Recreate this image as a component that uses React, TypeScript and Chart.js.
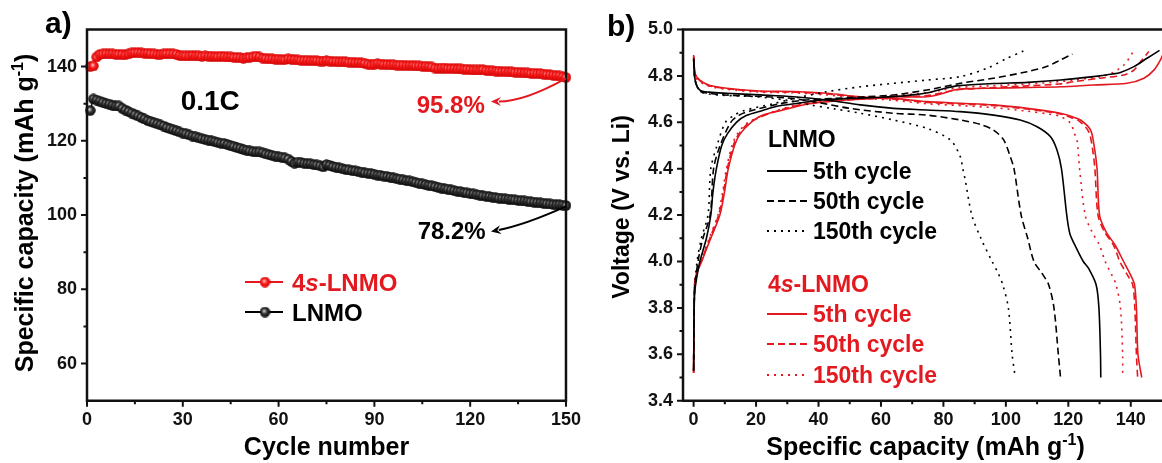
import React, { useEffect, useRef } from "react";
import { Chart, registerables } from "chart.js";

Chart.register(...registerables);

const FONT = "'Liberation Sans', Arial, Helvetica, sans-serif";
const RED = "#e3191f";
const BLACK = "#111111";

// ---------------- Panel a: cycling ----------------
const cycleNumbers = Array.from({ length: 150 }, (_, i) => i + 1);
const capacity4sLNMO = [
  140.0, 140.2, 142.6, 143.3, 143.4, 143.5, 143.4, 143.4, 143.3, 143.3,
  143.3, 143.2, 143.4, 143.7, 143.8, 143.8, 143.7, 143.6, 143.6, 143.5,
  143.4, 143.3, 143.3, 143.4, 143.5, 143.5, 143.4, 143.3, 143.0, 142.9,
  142.9, 142.9, 143.0, 142.9, 142.9, 142.8, 142.9, 142.8, 142.8, 142.7,
  142.7, 142.8, 142.7, 142.6, 142.6, 142.5, 142.5, 142.4, 142.3, 142.4,
  142.5, 142.6, 142.8, 142.6, 142.3, 142.2, 142.1, 142.1, 142.0, 142.0,
  141.9, 141.9, 142.1, 142.0, 141.9, 141.8, 141.7, 141.7, 141.7, 141.6,
  141.6, 141.6, 141.5, 141.5, 141.6, 141.5, 141.4, 141.4, 141.3, 141.3,
  141.3, 141.2, 141.2, 141.1, 141.1, 141.0, 140.9, 140.7, 140.5, 140.7,
  140.8, 140.7, 140.6, 140.6, 140.5, 140.5, 140.4, 140.4, 140.4, 140.3,
  140.3, 140.3, 140.2, 140.2, 140.1, 140.1, 140.0, 139.9, 139.6, 139.5,
  139.6, 139.6, 139.5, 139.5, 139.5, 139.4, 139.4, 139.3, 139.3, 139.2,
  139.1, 139.1, 139.1, 139.2, 139.0, 138.9, 138.9, 138.8, 138.8, 138.7,
  138.7, 138.6, 138.6, 138.5, 138.5, 138.4, 138.3, 138.3, 138.2, 138.2,
  138.1, 138.1, 138.0, 137.9, 137.8, 137.7, 137.6, 137.5, 137.3, 137.1,
];
const capacityLNMO = [
  128.2, 131.3, 131.0, 130.7, 130.4, 130.1, 129.9, 129.6, 129.4, 129.4,
  128.8, 128.3, 127.9, 127.5, 127.1, 126.7, 126.3, 125.9, 125.5, 125.2,
  124.9, 124.6, 124.3, 124.0, 123.6, 123.3, 123.0, 122.7, 122.4, 122.1,
  121.9, 121.6, 121.3, 121.1, 120.8, 120.6, 120.4, 120.2, 120.0, 119.8,
  119.6, 119.4, 119.3, 119.0, 118.7, 118.5, 118.2, 118.0, 117.7, 117.5,
  117.3, 117.1, 117.0, 117.0, 116.8, 116.5, 116.3, 116.1, 115.9, 115.7,
  115.6, 115.4, 115.1, 114.5, 114.0, 114.3, 114.2, 114.0, 113.9, 113.8,
  113.6, 113.5, 113.3, 113.0, 113.6, 113.4, 113.1, 112.9, 112.7, 112.5,
  112.3, 112.2, 112.0, 111.9, 111.7, 111.6, 111.4, 111.3, 111.2, 111.0,
  110.8, 110.7, 110.5, 110.4, 110.2, 110.0, 109.8, 109.7, 109.5, 109.3,
  109.2, 109.0, 108.8, 108.6, 108.4, 108.2, 108.0, 107.9, 107.7, 107.5,
  107.3, 107.1, 107.0, 106.8, 106.6, 106.4, 106.3, 106.1, 106.0, 105.8,
  105.7, 105.5, 105.4, 105.2, 105.1, 105.0, 104.8, 104.7, 104.6, 104.5,
  104.4, 104.3, 104.2, 104.1, 104.0, 103.9, 103.8, 103.7, 103.6, 103.5,
  103.4, 103.3, 103.2, 103.1, 103.0, 102.9, 102.8, 102.8, 102.7, 102.6,
];
const cycleTicks = [0, 30, 60, 90, 120, 150];
const cycleMinorTicks = [15, 45, 75, 105, 135];
const capacityTicks = [60, 80, 100, 120, 140];
const capacityMinorTicks = [70, 90, 110, 130];

// ---------------- Panel b: charge / discharge ----------------
const lnmo5ChargeCap = [0, 0.3, 1, 2, 4.1, 5.5, 6.2, 7.3, 9, 10.8, 13.7, 17, 21.9, 27, 32.4, 40, 50, 60, 68, 75, 80, 85, 96, 107, 117.5, 128, 134, 136.7, 141, 145.2, 149.2];
const lnmo5ChargeV = [3.53, 3.86, 3.93, 4.0, 4.1, 4.2, 4.3, 4.4, 4.5, 4.55, 4.6, 4.63, 4.65, 4.67, 4.68, 4.695, 4.703, 4.708, 4.715, 4.727, 4.745, 4.758, 4.767, 4.772, 4.782, 4.797, 4.808, 4.815, 4.84, 4.876, 4.91];
const lnmo50ChargeCap = [0, 0.3, 1.4, 3, 5.3, 6.4, 8.5, 11.9, 14.5, 18.4, 27.7, 35, 45, 55, 64, 74.7, 85.4, 96, 106.8, 113, 117.5, 121.3];
const lnmo50ChargeV = [3.53, 3.87, 4.0, 4.1, 4.2, 4.4, 4.5, 4.6, 4.63, 4.65, 4.68, 4.695, 4.703, 4.71, 4.718, 4.739, 4.768, 4.79, 4.818, 4.84, 4.869, 4.894];
const lnmo150ChargeCap = [0, 0.3, 1.1, 2.5, 4.6, 5.5, 7.5, 10.2, 13, 16, 25.4, 33, 42.7, 53.4, 64, 74.7, 85.4, 94, 100.4, 105.6];
const lnmo150ChargeV = [3.53, 3.87, 4.0, 4.1, 4.2, 4.4, 4.5, 4.6, 4.63, 4.65, 4.68, 4.705, 4.732, 4.753, 4.768, 4.782, 4.797, 4.833, 4.876, 4.907];

const lnmo5DischargeCap = [0, 0.5, 2, 5, 10.6, 21.3, 32, 42.7, 53.4, 64, 74.7, 85.4, 96.1, 104.6, 110, 114.3, 116.4, 117.8, 119.5, 120.5, 122.5, 124.8, 126.5, 128.9, 129.8, 130.3, 130.4];
const lnmo5DischargeV = [4.876, 4.782, 4.739, 4.73, 4.725, 4.718, 4.71, 4.696, 4.675, 4.66, 4.653, 4.646, 4.631, 4.61, 4.581, 4.538, 4.48, 4.4, 4.2, 4.12, 4.06, 4.0, 3.97, 3.9, 3.8, 3.6, 3.5];
const lnmo50DischargeCap = [0, 0.5, 2, 5, 10, 20, 30, 40, 50, 64, 74.7, 85.4, 92, 96, 99.3, 101.4, 102.6, 104.9, 107, 109, 111.5, 113.7, 115.4, 116.8, 117.5];
const lnmo50DischargeV = [4.87, 4.78, 4.735, 4.725, 4.718, 4.712, 4.705, 4.685, 4.66, 4.639, 4.631, 4.61, 4.59, 4.567, 4.524, 4.452, 4.4, 4.2, 4.1, 4.0, 3.95, 3.9, 3.8, 3.6, 3.5];
const lnmo150DischargeCap = [0, 0.5, 2, 5, 10, 20, 30, 37.3, 45, 53.4, 64, 74.7, 82.2, 85.4, 86.2, 87, 89.1, 92, 95.6, 97.5, 99, 100.8, 102, 102.8];
const lnmo150DischargeV = [4.87, 4.78, 4.735, 4.722, 4.716, 4.71, 4.695, 4.675, 4.658, 4.639, 4.61, 4.574, 4.524, 4.452, 4.4, 4.35, 4.2, 4.1, 4.0, 3.95, 3.9, 3.8, 3.6, 3.52];

const s4_5ChargeCap = [0, 0.3, 1, 2.6, 4, 5.5, 8.4, 9.9, 11.1, 13.1, 14.9, 18.4, 22, 27.7, 37, 48, 58, 64, 74.7, 80, 83.3, 88, 96.1, 107, 117.5, 128, 138.8, 144.2, 147.4, 149.5, 150.5];
const s4_5ChargeV = [3.52, 3.9, 3.95, 4.0, 4.05, 4.1, 4.2, 4.3, 4.4, 4.5, 4.55, 4.6, 4.63, 4.65, 4.68, 4.695, 4.703, 4.71, 4.71, 4.725, 4.739, 4.745, 4.747, 4.75, 4.753, 4.761, 4.768, 4.79, 4.825, 4.869, 4.9];
const s4_50ChargeCap = [0, 0.3, 1, 2.4, 5.2, 8, 9.6, 10.8, 12.7, 14.5, 18, 27, 36, 48, 58, 64, 74.7, 80, 84, 90, 96, 107, 117, 121.7, 130, 137.8, 141, 143.1, 145.8];
const s4_50ChargeV = [3.52, 3.9, 3.95, 4.0, 4.1, 4.2, 4.3, 4.4, 4.5, 4.55, 4.6, 4.65, 4.68, 4.695, 4.703, 4.71, 4.715, 4.728, 4.74, 4.745, 4.75, 4.757, 4.765, 4.775, 4.79, 4.804, 4.825, 4.861, 4.905];
const s4_150ChargeCap = [0, 0.3, 1, 2.3, 5, 7.8, 9.3, 10.5, 12.3, 14, 17.5, 26.5, 35, 47, 57, 64, 74.7, 80, 85, 96, 107, 117, 121.7, 132.4, 137.8, 141];
const s4_150ChargeV = [3.52, 3.9, 3.95, 4.0, 4.1, 4.2, 4.3, 4.4, 4.5, 4.55, 4.6, 4.65, 4.68, 4.695, 4.705, 4.715, 4.728, 4.74, 4.75, 4.758, 4.765, 4.775, 4.782, 4.804, 4.847, 4.909];

const s4_5DischargeCap = [0, 0.5, 2, 5, 10.6, 21.3, 32, 42.7, 53.4, 64, 74.7, 85.4, 96.1, 106.8, 117.5, 121, 123.9, 127.1, 128.3, 129.2, 130, 132, 135, 137.7, 140, 141.2, 141.8, 142.3, 143.5];
const s4_5DischargeV = [4.89, 4.81, 4.782, 4.76, 4.747, 4.735, 4.733, 4.725, 4.71, 4.703, 4.689, 4.682, 4.675, 4.66, 4.639, 4.625, 4.61, 4.567, 4.495, 4.4, 4.2, 4.13, 4.07, 4.0, 3.94, 3.9, 3.8, 3.6, 3.5];
const s4_50DischargeCap = [0, 0.5, 2, 5, 10.6, 21.3, 32, 42.7, 53.4, 64, 74.7, 85.4, 96.1, 106.8, 117.5, 121, 123.5, 126.5, 127.7, 128.5, 129.5, 131.5, 134.5, 136.5, 139, 140.6, 141.3, 141.8, 142.2];
const s4_50DischargeV = [4.885, 4.81, 4.78, 4.758, 4.745, 4.733, 4.73, 4.722, 4.708, 4.7, 4.686, 4.679, 4.672, 4.657, 4.636, 4.62, 4.605, 4.56, 4.49, 4.4, 4.2, 4.13, 4.07, 4.0, 3.94, 3.9, 3.8, 3.6, 3.5];
const s4_150DischargeCap = [0, 0.5, 2, 5, 10.6, 21.3, 32, 42.7, 53.4, 64, 74.7, 85.4, 96.1, 106.8, 114, 117.5, 120.7, 122, 122.8, 123.6, 125.4, 127.5, 130, 131.8, 134, 135.3, 136.7, 137.4, 137.4];
const s4_150DischargeV = [4.88, 4.8, 4.775, 4.755, 4.742, 4.73, 4.727, 4.718, 4.705, 4.695, 4.68, 4.672, 4.663, 4.648, 4.635, 4.625, 4.596, 4.55, 4.524, 4.4, 4.2, 4.13, 4.07, 4.0, 3.94, 3.9, 3.8, 3.6, 3.5];

const voltageTicks = [3.4, 3.6, 3.8, 4.0, 4.2, 4.4, 4.6, 4.8, 5.0];
const voltageMinorTicks = [3.5, 3.7, 3.9, 4.1, 4.3, 4.5, 4.7, 4.9];
const specCapTicks = [0, 20, 40, 60, 80, 100, 120, 140];
const specCapMinorTicks = [10, 30, 50, 70, 90, 110, 130];

const SOLID: number[] = [];
const DASHED = [7, 4];
const DOTTED = [2, 5];

// ---------------- helpers ----------------
type Seg = { t: string; italic?: boolean; sup?: boolean };

function drawRich(ctx: CanvasRenderingContext2D, segs: Seg[], x: number, y: number, size: number, color: string, align: "left" | "center") {
  const fontFor = (s: Seg) => `${s.italic ? "italic " : ""}bold ${s.sup ? Math.round(size * 0.62) : size}px ${FONT}`;
  const widths = segs.map((s) => {
    ctx.font = fontFor(s);
    return ctx.measureText(s.t).width;
  });
  const total = widths.reduce((a, b) => a + b, 0);
  let cx = align === "center" ? x - total / 2 : x;
  ctx.fillStyle = color;
  ctx.textAlign = "left";
  ctx.textBaseline = "alphabetic";
  segs.forEach((s, i) => {
    ctx.font = fontFor(s);
    ctx.fillText(s.t, cx, s.sup ? y - size * 0.4 : y);
    cx += widths[i];
  });
}

function makeBall(size: number, inner: string, mid: string, edge: string) {
  const c = document.createElement("canvas");
  c.width = size;
  c.height = size;
  const g = c.getContext("2d")!;
  const r = size / 2;
  const grad = g.createRadialGradient(r - 1, r - 1.2, 0.2, r, r, r);
  grad.addColorStop(0, inner);
  grad.addColorStop(0.45, mid);
  grad.addColorStop(1, edge);
  g.fillStyle = grad;
  g.beginPath();
  g.arc(r, r, r - 0.3, 0, Math.PI * 2);
  g.fill();
  return c;
}

function drawAxesFrame(chart: any, o: { xMajor: number[]; xMinor: number[]; yMajor: number[]; yMinor: number[]; right: boolean }) {
  const ctx: CanvasRenderingContext2D = chart.ctx;
  const { left, right, top, bottom } = chart.chartArea;
  const xs = chart.scales.x;
  const ys = chart.scales.y;
  ctx.save();
  ctx.strokeStyle = BLACK;
  ctx.lineWidth = 2;
  ctx.setLineDash([]);
  ctx.beginPath();
  o.xMajor.forEach((v) => { const p = xs.getPixelForValue(v); ctx.moveTo(p, bottom); ctx.lineTo(p, bottom + 6); });
  o.xMinor.forEach((v) => { const p = xs.getPixelForValue(v); ctx.moveTo(p, bottom); ctx.lineTo(p, bottom + 3.5); });
  o.yMajor.forEach((v) => { const p = ys.getPixelForValue(v); ctx.moveTo(left, p); ctx.lineTo(left - 6, p); });
  o.yMinor.forEach((v) => { const p = ys.getPixelForValue(v); ctx.moveTo(left, p); ctx.lineTo(left - 3.5, p); });
  ctx.stroke();
  ctx.lineWidth = 2.5;
  ctx.beginPath();
  if (o.right) {
    ctx.rect(left, top, right - left, bottom - top);
  } else {
    ctx.moveTo(right + 2, top);
    ctx.lineTo(left, top);
    ctx.lineTo(left, bottom);
    ctx.lineTo(right + 2, bottom);
  }
  ctx.stroke();
  ctx.restore();
}

function drawArrow(ctx: CanvasRenderingContext2D, sx: number, sy: number, cx: number, cy: number, ex: number, ey: number, color: string) {
  ctx.save();
  ctx.strokeStyle = color;
  ctx.fillStyle = color;
  ctx.lineWidth = 2;
  ctx.setLineDash([]);
  const ang = Math.atan2(ey - cy, ex - cx);
  const L = 10;
  const W = 4.5;
  const bx = ex - L * 0.8 * Math.cos(ang);
  const by = ey - L * 0.8 * Math.sin(ang);
  ctx.beginPath();
  ctx.moveTo(sx, sy);
  ctx.quadraticCurveTo(cx, cy, bx, by);
  ctx.stroke();
  ctx.beginPath();
  ctx.moveTo(ex, ey);
  ctx.lineTo(ex - L * Math.cos(ang) + W * Math.sin(ang), ey - L * Math.sin(ang) - W * Math.cos(ang));
  ctx.lineTo(ex - L * 0.65 * Math.cos(ang), ey - L * 0.65 * Math.sin(ang));
  ctx.lineTo(ex - L * Math.cos(ang) - W * Math.sin(ang), ey - L * Math.sin(ang) + W * Math.cos(ang));
  ctx.closePath();
  ctx.fill();
  ctx.restore();
}

const tickFont = { family: FONT, size: 18, weight: "bold" as const };

export default function App() {
  const refA = useRef<HTMLCanvasElement>(null);
  const refB = useRef<HTMLCanvasElement>(null);

  useEffect(() => {
    const redBall = makeBall(11, "#ffd0d0", "#ff2020", "#cc0000");
    const blackBall = makeBall(11, "#d8d8d8", "#3a3a3a", "#000000");

    const panelAPlugin = {
      id: "panelA",
      afterDatasetsDraw(chart: any) {
        const ctx: CanvasRenderingContext2D = chart.ctx;
        const xs = chart.scales.x;
        const ys = chart.scales.y;
        const { left, right } = chart.chartArea;
        drawAxesFrame(chart, { xMajor: cycleTicks, xMinor: cycleMinorTicks, yMajor: capacityTicks, yMinor: capacityMinorTicks, right: true });
        ctx.save();
        drawRich(ctx, [{ t: "a)" }], 45, 33, 30, "#000", "left");
        drawRich(ctx, [{ t: "Cycle number" }], (left + right) / 2, 455, 25, "#000", "center");
        ctx.save();
        ctx.translate(33, 213);
        ctx.rotate(-Math.PI / 2);
        drawRich(ctx, [{ t: "Specific capacity (mAh g" }, { t: "-1", sup: true }, { t: ")" }], 0, 0, 25, "#000", "center");
        ctx.restore();
        const px = (v: number) => xs.getPixelForValue(v);
        const py = (v: number) => ys.getPixelForValue(v);
        drawRich(ctx, [{ t: "0.1C" }], px(38.6), py(131.1) + 10, 28, "#000", "center");
        drawRich(ctx, [{ t: "95.8%" }], px(113.9), py(129.8) + 9, 24, RED, "center");
        drawRich(ctx, [{ t: "78.2%" }], px(114.2), py(96.1) + 9, 24, "#000", "center");
        const lastRed = capacity4sLNMO[capacity4sLNMO.length - 1];
        const lastBlack = capacityLNMO[capacityLNMO.length - 1];
        drawArrow(ctx, px(150), py(lastRed) + 1, px(137), py(130.6), px(126.5), py(130.6), RED);
        drawArrow(ctx, px(150), py(lastBlack) + 1, px(137), py(97.3), px(126.5), py(95.6), "#000");
        const rows = [
          { y: 282, color: RED, ball: redBall, segs: [{ t: "4" }, { t: "s", italic: true }, { t: "-LNMO" }] as Seg[] },
          { y: 312, color: "#000", ball: blackBall, segs: [{ t: "LNMO" }] as Seg[] },
        ];
        rows.forEach((r) => {
          ctx.strokeStyle = r.color;
          ctx.lineWidth = 2;
          ctx.beginPath();
          ctx.moveTo(245, r.y);
          ctx.lineTo(283, r.y);
          ctx.stroke();
          ctx.drawImage(r.ball, 265 - 5.5, r.y - 5.5);
          drawRich(ctx, r.segs, 292, r.y + 8.6, 24, r.color, "left");
        });
        ctx.restore();
      },
    };

    const chartA = new Chart(refA.current!, {
      type: "line",
      data: {
        datasets: [
          {
            label: "LNMO",
            data: cycleNumbers.map((c, i) => ({ x: c, y: capacityLNMO[i] })),
            borderColor: "#000",
            borderWidth: 1.5,
            pointStyle: blackBall as any,
            pointRadius: 5.5,
            clip: false as any,
          },
          {
            label: "4s-LNMO",
            data: cycleNumbers.map((c, i) => ({ x: c, y: capacity4sLNMO[i] })),
            borderColor: RED,
            borderWidth: 1.5,
            pointStyle: redBall as any,
            pointRadius: 5.5,
            clip: false as any,
          },
        ],
      },
      options: {
        responsive: false,
        animation: false,
        devicePixelRatio: 1,
        layout: { padding: { left: 0, right: 17, top: 29.5, bottom: 0 } },
        plugins: { legend: { display: false }, tooltip: { enabled: false } },
        scales: {
          x: {
            type: "linear",
            min: 0,
            max: 150,
            grid: { display: false, drawTicks: false },
            border: { display: false },
            afterBuildTicks: (s: any) => { s.ticks = cycleTicks.map((v) => ({ value: v })); },
            afterFit: (s: any) => { s.height = 62.3; },
            ticks: { font: tickFont, color: "#111", padding: 9, maxRotation: 0, autoSkip: false },
          },
          y: {
            type: "linear",
            min: 50,
            max: 150,
            grid: { display: false, drawTicks: false },
            border: { display: false },
            afterBuildTicks: (s: any) => { s.ticks = capacityTicks.map((v) => ({ value: v })); },
            afterFit: (s: any) => { s.width = 87; },
            ticks: { font: tickFont, color: "#111", padding: 10, autoSkip: false },
          },
        },
      },
      plugins: [panelAPlugin],
    });

    const curves = [
      { cap: lnmo5ChargeCap, v: lnmo5ChargeV, color: "#000", dash: SOLID },
      { cap: lnmo5DischargeCap, v: lnmo5DischargeV, color: "#000", dash: SOLID },
      { cap: lnmo50ChargeCap, v: lnmo50ChargeV, color: "#000", dash: DASHED },
      { cap: lnmo50DischargeCap, v: lnmo50DischargeV, color: "#000", dash: DASHED },
      { cap: lnmo150ChargeCap, v: lnmo150ChargeV, color: "#000", dash: DOTTED },
      { cap: lnmo150DischargeCap, v: lnmo150DischargeV, color: "#000", dash: DOTTED },
      { cap: s4_150ChargeCap, v: s4_150ChargeV, color: RED, dash: DOTTED },
      { cap: s4_150DischargeCap, v: s4_150DischargeV, color: RED, dash: DOTTED },
      { cap: s4_50ChargeCap, v: s4_50ChargeV, color: RED, dash: DASHED },
      { cap: s4_50DischargeCap, v: s4_50DischargeV, color: RED, dash: DASHED },
      { cap: s4_5ChargeCap, v: s4_5ChargeV, color: RED, dash: SOLID },
      { cap: s4_5DischargeCap, v: s4_5DischargeV, color: RED, dash: SOLID },
    ];

    const panelBPlugin = {
      id: "panelB",
      afterDatasetsDraw(chart: any) {
        const ctx: CanvasRenderingContext2D = chart.ctx;
        const { left, right } = chart.chartArea;
        drawAxesFrame(chart, { xMajor: specCapTicks, xMinor: specCapMinorTicks, yMajor: voltageTicks, yMinor: voltageMinorTicks, right: false });
        ctx.save();
        drawRich(ctx, [{ t: "b)" }], 17, 36, 30, "#000", "left");
        drawRich(ctx, [{ t: "Specific capacity (mAh g" }, { t: "-1", sup: true }, { t: ")" }], (left + right) / 2 + 3, 455, 25, "#000", "center");
        ctx.save();
        ctx.translate(39, 207);
        ctx.rotate(-Math.PI / 2);
        drawRich(ctx, [{ t: "Voltage (V vs. Li)" }], 0, 0, 23, "#000", "center");
        ctx.restore();
        const lx0 = 177;
        const lx1 = 217;
        const tx = 223;
        drawRich(ctx, [{ t: "LNMO" }], 178, 139 + 8.3, 23, "#000", "left");
        drawRich(ctx, [{ t: "4" }, { t: "s", italic: true }, { t: "-LNMO" }], 178, 284 + 8.3, 23, RED, "left");
        const rows = [
          { y: 171, c: "#000", d: SOLID, t: "5th cycle" },
          { y: 201, c: "#000", d: DASHED, t: "50th cycle" },
          { y: 231, c: "#000", d: DOTTED, t: "150th cycle" },
          { y: 314, c: RED, d: SOLID, t: "5th cycle" },
          { y: 344, c: RED, d: DASHED, t: "50th cycle" },
          { y: 375, c: RED, d: DOTTED, t: "150th cycle" },
        ];
        rows.forEach((r) => {
          ctx.strokeStyle = r.c;
          ctx.lineWidth = 1.8;
          ctx.setLineDash(r.d);
          ctx.beginPath();
          ctx.moveTo(lx0, r.y);
          ctx.lineTo(lx1, r.y);
          ctx.stroke();
          ctx.setLineDash([]);
          drawRich(ctx, [{ t: r.t }], tx, r.y + 8.3, 23, r.c, "left");
        });
        ctx.restore();
      },
    };

    const chartB = new Chart(refB.current!, {
      type: "scatter",
      data: {
        datasets: curves.map((c) => ({
          data: c.cap.map((x, i) => ({ x, y: c.v[i] })),
          showLine: true,
          borderColor: c.color,
          borderWidth: 1.6,
          borderDash: c.dash,
          pointRadius: 0,
          tension: 0.3,
        })),
      },
      options: {
        responsive: false,
        animation: false,
        devicePixelRatio: 1,
        layout: { padding: { left: 0, right: 0, top: 29.5, bottom: 0 } },
        plugins: { legend: { display: false }, tooltip: { enabled: false } },
        scales: {
          x: {
            type: "linear",
            min: -3.4,
            max: 150,
            grid: { display: false, drawTicks: false },
            border: { display: false },
            afterBuildTicks: (s: any) => { s.ticks = specCapTicks.map((v) => ({ value: v })); },
            afterFit: (s: any) => { s.height = 62.3; },
            ticks: { font: tickFont, color: "#111", padding: 9, maxRotation: 0, autoSkip: false },
          },
          y: {
            type: "linear",
            min: 3.4,
            max: 5.0,
            grid: { display: false, drawTicks: false },
            border: { display: false },
            afterBuildTicks: (s: any) => { s.ticks = voltageTicks.map((v) => ({ value: v })); },
            afterFit: (s: any) => { s.width = 93; },
            ticks: { font: tickFont, color: "#111", padding: 10, autoSkip: false, callback: (v: any) => Number(v).toFixed(1) },
          },
        },
      },
      plugins: [panelBPlugin],
    });

    return () => {
      chartA.destroy();
      chartB.destroy();
    };
  }, []);

  return (
    <div style={{ position: "absolute", left: 0, top: 0, width: 1162, height: 463, background: "#fff", overflow: "hidden" }}>
      <canvas ref={refA} width={590} height={463} style={{ position: "absolute", left: 0, top: 0, width: 590, height: 463 }} />
      <canvas ref={refB} width={572} height={463} style={{ position: "absolute", left: 590, top: 0, width: 572, height: 463 }} />
    </div>
  );
}
